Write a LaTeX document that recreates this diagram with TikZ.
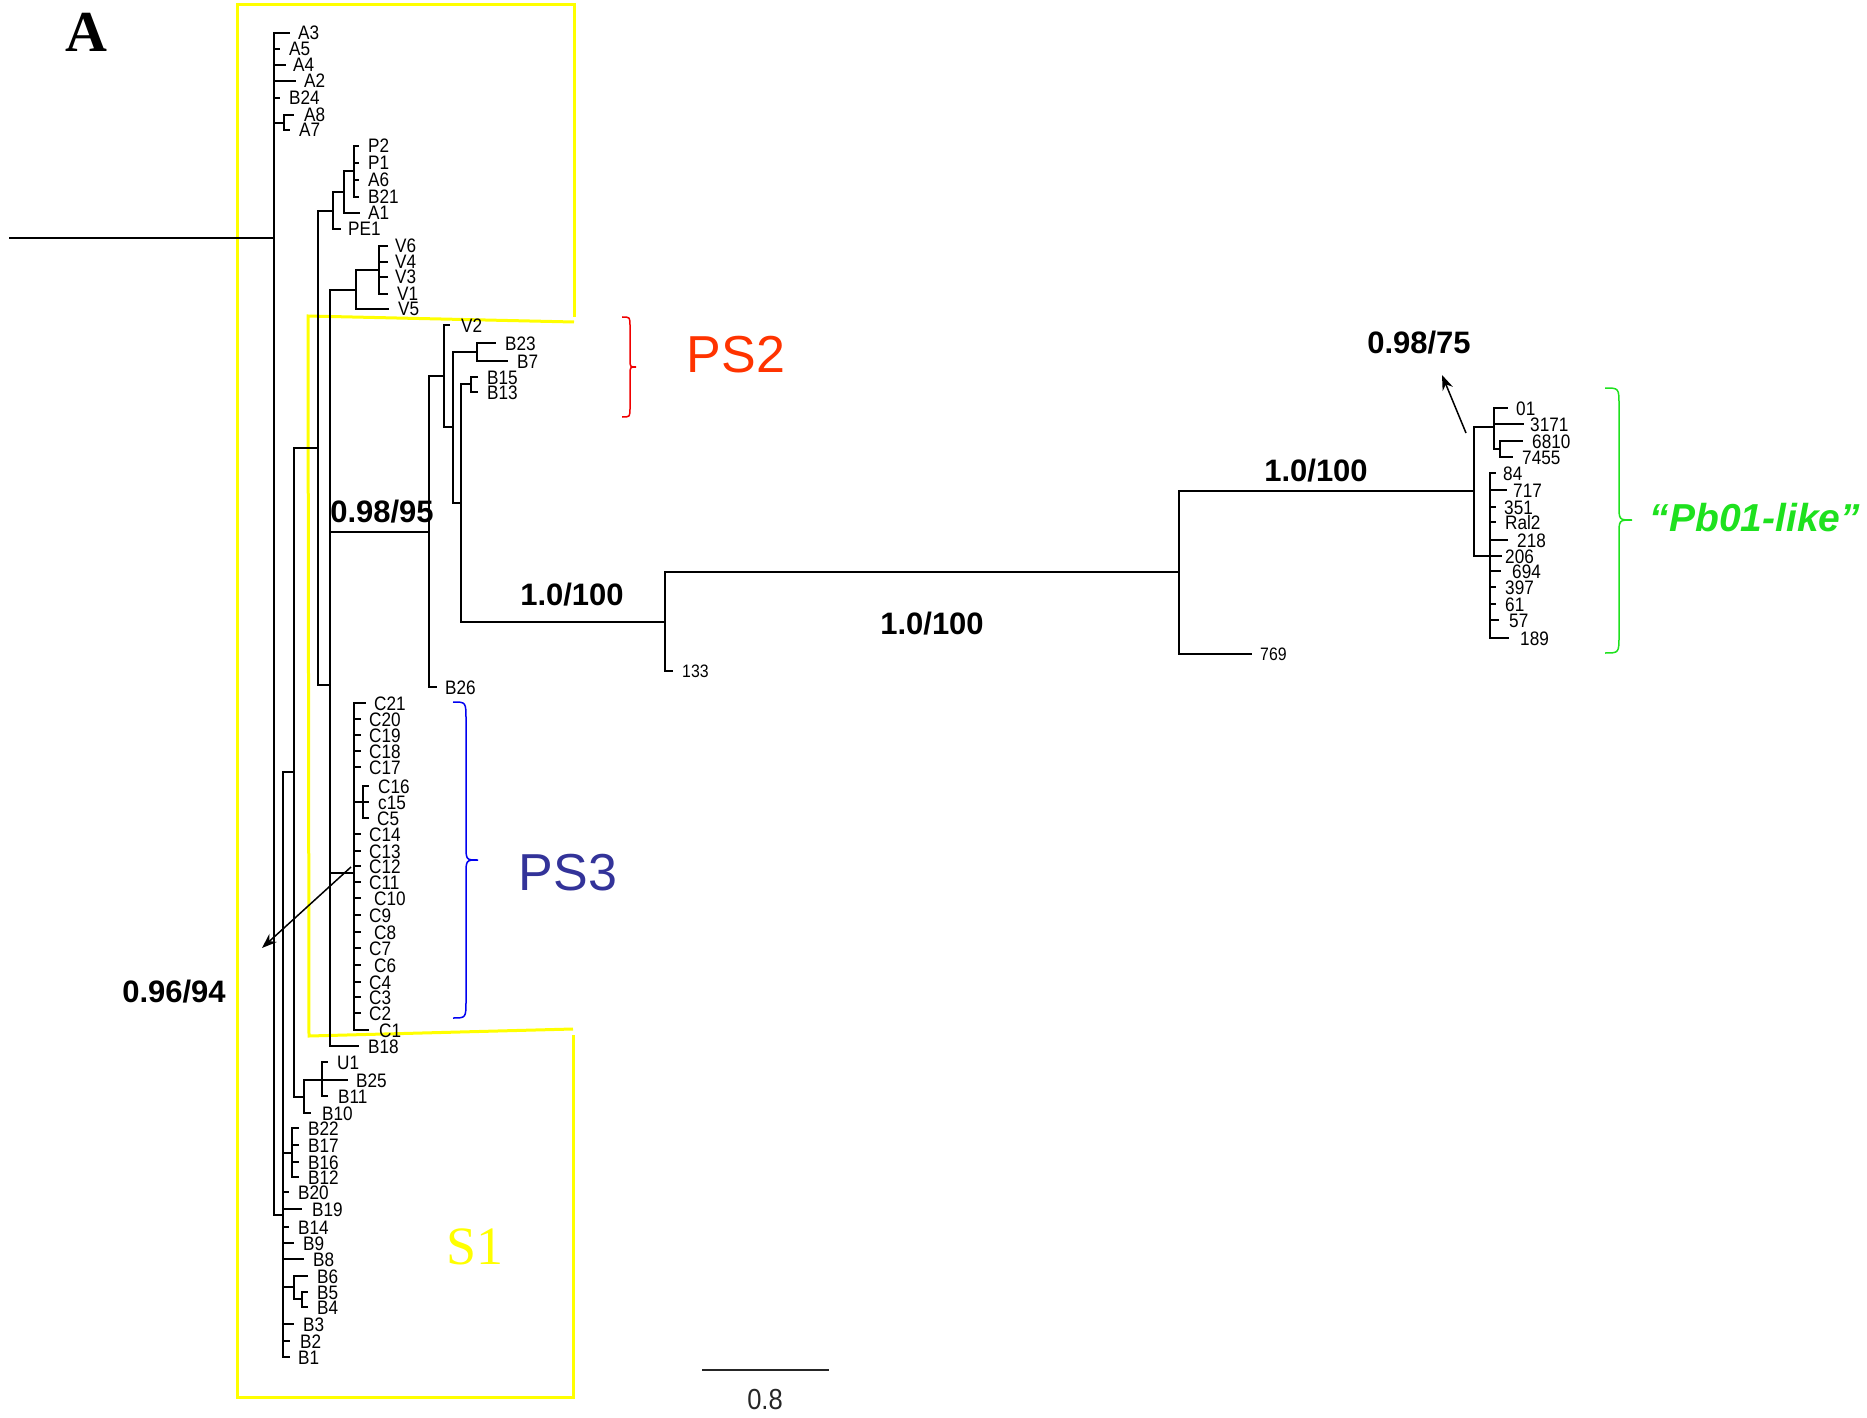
\documentclass[tikz,border=0pt]{standalone}
\usepackage{fontspec}
\setmainfont{Liberation Sans}
\newfontfamily\labfont[FakeStretch=0.88]{Liberation Sans}
\newfontfamily\serffont{Liberation Serif}
\usetikzlibrary{arrows.meta}
\definecolor{yel}{RGB}{255,255,0}
\definecolor{pstwo}{RGB}{255,51,0}
\definecolor{psthree}{RGB}{51,51,153}
\definecolor{bred}{RGB}{240,0,0}
\definecolor{bblue}{RGB}{0,0,240}
\definecolor{pbgreen}{RGB}{30,225,30}
\tikzset{
  br/.style={line width=1.7bp, black, line cap=rect},
  lab/.style={font={\labfont\fontsize{19.5bp}{20bp}\selectfont}, inner sep=0pt, anchor=west, text height=14bp, text depth=0pt},
  smlab/.style={font={\labfont\fontsize{18bp}{19bp}\selectfont}, inner sep=0pt, anchor=west, text height=13bp, text depth=0pt},
  blab/.style={font={\fontsize{31bp}{32bp}\selectfont\bfseries}, inner sep=0pt},
  yelline/.style={line width=3bp, yel},
  brace/.style={line width=1.5bp},
  arr/.style={line width=1.5bp, black, -{Stealth[length=15bp,width=11bp]}}
}
\begin{document}
\begin{tikzpicture}[x=1bp,y=-1bp]
\useasboundingbox (0,0) rectangle (1867,1418);

% yellow frames
\draw[yelline] (574,317) -- (574,5) -- (237,5) -- (237,1397) -- (573,1397) -- (573,1035);
\draw[yelline] (574,322) -- (308,316) -- (309,1036) -- (573,1029);

% internal nodes
\foreach \n/\x/\y in {R/274/238, nA87/284/123, nB/283/1215, n294/294/772, n304/304/1097,
  nU/322/1080, nB22/292/1153, nB6/294/1287, nB54/302/1299, n318/318/448, nP/333/211,
  nP2/344/192, nP3/354/171, n330/330/685, nV/356/290, nV2/379/270, n429/429/532,
  n444/444/376, n453/453/427, nB23/477/352, n461/461/503, nB15/471/384, n665/665/622,
  n1179/1179/572, nPb/1474/491, nPb1/1494/427, nPb3/1500/449, nPb2/1490/556,
  nC/354/873, nC16/363/802}
  { \coordinate (\n) at (\x,\y); }

% tips with labels
\foreach \n/\x/\y/\lx in {A3/289/33/298, A5/279/49/289, A4/285/65/293, A2/295/81/304,
  B24/279/98/289, A8/293/115/304, A7/289/130/299,
  P2/358/146/368, P1/358/163/368, A6/358/180/368, B21/358/197/368, A1/359/213/368, PE1/340/229/348,
  V6/387/246/395, V4/387/262/395, V3/387/277/395, V1/387/294/397, V5/388/309/398,
  V2/449/325/461, B23/495/343/505, B7/507/361/517, B15/477/377/487, B13/477/392/487, B26/436/687/445,
  C21/365/703/374, C20/360/719/369, C19/360/735/369, C18/360/751/369, C17/360/767/369,
  C16/368/786/378, c15/368/802/378, C5/368/818/377, C14/360/834/369, C13/360/851/369,
  C12/360/866/369, C11/360/882/369, C10/360/898/374, C9/360/915/369, C8/360/932/374,
  C7/360/948/369, C6/360/965/374, C4/360/982/369, C3/360/997/369, C2/360/1013/369, C1/368/1030/379,
  B18/358/1046/368, U1/327/1062/337, B25/347/1080/356, B11/327/1096/338, B10/310/1113/322,
  B22/298/1128/308, B17/298/1145/308, B16/298/1162/308, B12/298/1177/308, B20/288/1192/298,
  B19/301/1209/312, B14/288/1227/298, B9/293/1243/303, B8/303/1259/313, B6/307/1276/317,
  B5/307/1292/317, B4/307/1307/317, B3/293/1324/303, B2/289/1341/300, B1/289/1357/298,
  01/1507/408/1516, 3171/1523/424/1530, 6810/1522/441/1532, 7455/1512/457/1522,
  84/1495/473/1503, 717/1506/490/1513, 351/1495/507/1504, Ral2/1495/522/1505, 218/1507/540/1517,
  206/1501/556/1505, 694/1500/571/1512, 397/1495/587/1505, 61/1495/604/1505, 57/1498/620/1509,
  189/1508/638/1520}
  { \coordinate (t\n) at (\x,\y); \node[lab] (l\n) at (\lx,\y) {\n}; }

\foreach \n/\x/\y/\lx in {133/672/671/682, 769/1251/654/1260}
  { \coordinate (t\n) at (\x,\y); \node[smlab] (l\n) at (\lx,\y) {\n}; }

% root line
\coordinate (r0) at (10,238);
\draw[br] (r0) -- (R);

% branches
\foreach \p/\c in {R/tA3, R/tA5, R/tA4, R/tA2, R/tB24, R/nA87, R/nB,
  nA87/tA8, nA87/tA7,
  nB/n294, nB/nB22, nB/tB20, nB/tB19, nB/tB14, nB/tB9, nB/tB8, nB/nB6, nB/tB3, nB/tB2, nB/tB1,
  nB22/tB22, nB22/tB17, nB22/tB16, nB22/tB12,
  nB6/tB6, nB6/nB54, nB54/tB5, nB54/tB4,
  n294/n318, n294/n304, n304/nU, n304/tB10, nU/tU1, nU/tB25, nU/tB11,
  n318/nP, n318/n330, nP/nP2, nP/tPE1, nP2/nP3, nP2/tA1,
  nP3/tP2, nP3/tP1, nP3/tA6, nP3/tB21,
  n330/nV, n330/n429, n330/nC, n330/tB18,
  nV/nV2, nV/tV5, nV2/tV6, nV2/tV4, nV2/tV3, nV2/tV1,
  n429/n444, n429/tB26, n444/tV2, n444/n453, n453/nB23, n453/n461,
  nB23/tB23, nB23/tB7, n461/nB15, n461/n665, nB15/tB15, nB15/tB13,
  n665/n1179, n665/t133, n1179/nPb, n1179/t769, nPb/nPb1, nPb/nPb2,
  nPb1/t01, nPb1/t3171, nPb1/nPb3, nPb3/t6810, nPb3/t7455,
  nPb2/t84, nPb2/t717, nPb2/t351, nPb2/tRal2, nPb2/t218, nPb2/t206, nPb2/t694,
  nPb2/t397, nPb2/t61, nPb2/t57, nPb2/t189,
  nC/tC21, nC/tC20, nC/tC19, nC/tC18, nC/tC17, nC/nC16, nC/tC14, nC/tC13, nC/tC12,
  nC/tC11, nC/tC10, nC/tC9, nC/tC8, nC/tC7, nC/tC6, nC/tC4, nC/tC3, nC/tC2, nC/tC1,
  nC16/tC16, nC16/tc15, nC16/tC5}
  { \draw[br] (\p) |- (\c); }

% support labels
\node[blab] (s1) at (382,512) {0.98/95};
\node[blab] (s2) at (572,595) {1.0/100};
\node[blab] (s3) at (932,624) {1.0/100};
\node[blab] (s4) at (1316,471) {1.0/100};
\node[blab] (s5) at (1419,343) {0.98/75};
\node[blab] (s6) at (174,992) {0.96/94};

% arrows
\coordinate (a1s) at (351,867); \coordinate (a1e) at (262,948);
\draw[arr] (a1s) -- (a1e);
\coordinate (a2s) at (1466,433); \coordinate (a2e) at (1442,375);
\draw[arr] (a2s) -- (a2e);

% braces
\draw[brace, bred] (622,317) .. controls (630,317) .. (630,326) -- (630,359)
  .. controls (630,367) .. (636,367) .. controls (630,367) .. (630,375) -- (630,408)
  .. controls (630,417) .. (622,417);
\draw[brace, bblue] (453,702) .. controls (466,702) .. (466,720) -- (466,845)
  .. controls (466,860) .. (478,860) .. controls (466,860) .. (466,875) -- (466,1000)
  .. controls (466,1018) .. (453,1018);
\draw[brace, pbgreen] (1605,388) .. controls (1619,388) .. (1619,406) -- (1619,505)
  .. controls (1619,520) .. (1632,520) .. controls (1619,520) .. (1619,535) -- (1619,635)
  .. controls (1619,653) .. (1605,653);

% group labels
\node[font={\fontsize{52bp}{54bp}\selectfont}, text=pstwo, inner sep=0pt] (ps2) at (736,355) {PS2};
\node[font={\fontsize{52bp}{54bp}\selectfont}, text=psthree, inner sep=0pt] (ps3) at (568,873) {PS3};
\node[font={\fontsize{39bp}{40bp}\selectfont\bfseries\itshape}, text=pbgreen, inner sep=0pt] (pb) at (1755,518) {“Pb01-like”};
\node[font={\serffont\fontsize{54bp}{56bp}\selectfont}, text=yel, inner sep=0pt] (S1) at (475,1247) {S1};
\node[font={\serffont\fontsize{58bp}{60bp}\selectfont\bfseries}, inner sep=0pt] (A) at (86,32) {A};

% scale bar
\coordinate (sb1) at (702,1370); \coordinate (sb2) at (829,1370);
\draw[line width=1.7bp, black!85] (sb1) -- (sb2);
\node[font={\labfont\fontsize{29bp}{30bp}\selectfont}, text=black!85, inner sep=0pt] (sbl) at (765,1400) {0.8};
\end{tikzpicture}
\end{document}
